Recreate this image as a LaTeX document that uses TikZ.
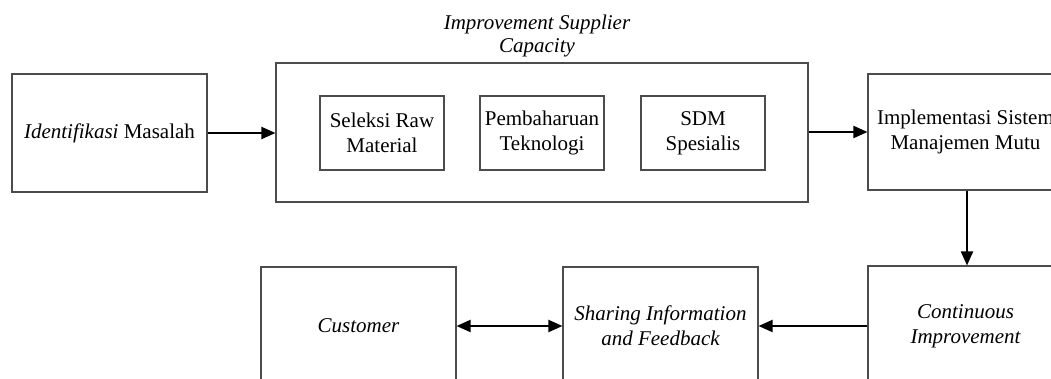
\documentclass[tikz,border=0pt]{standalone}
\usepackage{fontspec}
\setmainfont{Liberation Serif}
\usetikzlibrary{arrows.meta}

\tikzset{
  txt/.style={align=center, inner sep=0pt, font=\fontsize{21}{25}\selectfont},
  box/.style={txt, draw=black!70, line width=1.1pt, rectangle},
  arr/.style={draw=black, line width=2pt,
    -{Triangle[length=14pt,width=12pt]}},
  biarr/.style={draw=black, line width=2pt,
    {Triangle[length=14pt,width=12pt]}-{Triangle[length=14pt,width=12pt]}},
}

\begin{document}
\begin{tikzpicture}[x=1pt, y=-1pt]
  \clip (0,0) rectangle (1051,379);

  % top row
  \node[box, minimum width=195pt, minimum height=118pt] (ident) at (109.5,133)
    {\textit{Identifikasi} Masalah};
  \node[box, minimum width=532pt, minimum height=139pt] (cap) at (542,132.5) {};
  \node[txt, font=\fontsize{21}{23}\selectfont\itshape] (captitle) at (537,36)
    {Improvement Supplier\\Capacity};
  \node[box, minimum width=124pt, minimum height=74pt] (raw) at (382,133)
    {Seleksi Raw\\Material};
  \node[box, minimum width=124pt, minimum height=74pt] (tek) at (542,133)
    {Pembaharuan\\Teknologi};
  \node[box, minimum width=124pt, minimum height=74pt] (sdm) at (703,133)
    {SDM\\Spesialis};
  \node[box, minimum width=195pt, minimum height=116pt] (impl) at (965.5,132)
    {Implementasi Sistem\\Manajemen Mutu};

  % bottom row
  \node[box, minimum width=195pt, minimum height=120pt] (cont) at (965.5,326)
    {\itshape Continuous\\\itshape Improvement};
  \node[box, minimum width=195pt, minimum height=118pt] (share) at (660.5,326)
    {\itshape Sharing Information\\\itshape and Feedback};
  \node[box, minimum width=195pt, minimum height=118pt] (cust) at (358.5,326)
    {\itshape Customer};

  % connectors
  \draw[arr] (ident.east) -- (ident.east -| cap.west);
  \draw[arr] (cap.east |- impl.west) -- (impl.west);
  \draw[arr] (impl.south -| 967,0) -- (cont.north -| 967,0);
  \draw[arr] (cont.west) -- (share.east);
  \draw[biarr] (cust.east) -- (share.west);
\end{tikzpicture}
\end{document}
